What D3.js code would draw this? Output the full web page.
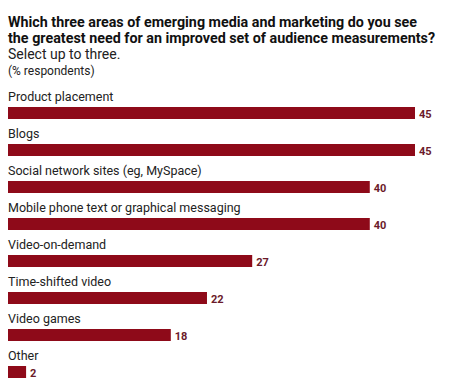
<!DOCTYPE html>
<html><head><meta charset="utf-8">
<script src="https://cdn.jsdelivr.net/npm/d3@7"></script>
<style>
html,body{margin:0;padding:0;background:#fff;}
svg text{font-family:Roboto, "Noto Sans", sans-serif;}
</style></head>
<body><svg id="c" width="460" height="388"></svg>
<script>
const titleLines = ["Which three areas of emerging media and marketing do you see",
                    "the greatest need for an improved set of audience measurements?"];
const subtitle = "Select up to three.";
const unitNote = "(% respondents)";
const categories = ["Product placement","Blogs","Social network sites (eg, MySpace)",
  "Mobile phone text or graphical messaging","Video-on-demand","Time-shifted video",
  "Video games","Other"];
const values = [45,45,40,40,27,22,18,2];

const svg = d3.select("#c");
const x = d3.scaleLinear().domain([0,45]).range([8,415]);
const step = 37;
const y = d3.scaleBand().domain(categories).range([82, 82 + step*categories.length]).paddingInner(0).paddingOuter(0);
const barH = 12;

svg.append("text").attr("x",8).attr("y",27).attr("font-size",14).attr("font-weight","bold")
  .attr("fill","#111").attr("textLength",409).attr("lengthAdjust","spacingAndGlyphs").text(titleLines[0]);
svg.append("text").attr("x",8).attr("y",43).attr("font-size",14).attr("font-weight","bold")
  .attr("fill","#111").attr("textLength",427).attr("lengthAdjust","spacingAndGlyphs").text(titleLines[1]);
svg.append("text").attr("x",8).attr("y",59).attr("font-size",14).attr("fill","#222").text(subtitle);
svg.append("text").attr("x",8).attr("y",75).attr("font-size",12).attr("fill","#222").text(unitNote);

const g = svg.selectAll("g.row").data(categories).join("g").attr("class","row");
g.append("text").attr("x",8).attr("y",d=>y(d)+19).attr("font-size",12.5).attr("fill","#222").text(d=>d);
g.append("rect").attr("x",x(0)).attr("y",d=>y(d)+25).attr("height",barH)
  .attr("width",(d,i)=>x(values[i])-x(0)).attr("fill","#8e0a19");
g.append("text").attr("x",(d,i)=>x(values[i])+4).attr("y",d=>y(d)+25+barH-1)
  .attr("font-size",11).attr("font-weight","bold").attr("fill","#6b1a2a").text((d,i)=>values[i]);
</script></body></html>
